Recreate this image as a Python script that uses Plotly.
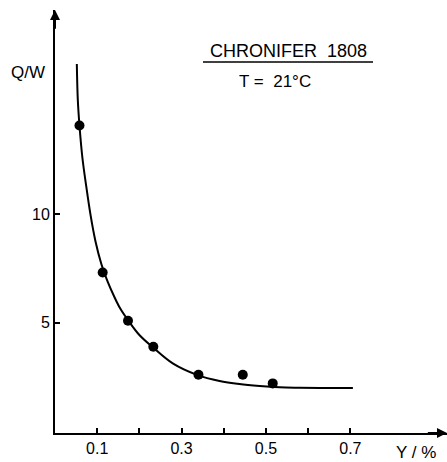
import plotly.graph_objects as go

# Measured data points
pts_x = [0.058, 0.113, 0.173, 0.233, 0.340, 0.445, 0.516]
pts_y = [14.1, 7.32, 5.09, 3.89, 2.60, 2.60, 2.20]

# Fitted curve
curve_x = [0.0517, 0.054, 0.058, 0.065, 0.074, 0.084, 0.096, 0.110, 0.125, 0.140,
           0.155, 0.174, 0.200, 0.232, 0.279, 0.338, 0.390, 0.437, 0.485, 0.532,
           0.579, 0.640, 0.706]
curve_y = [16.94, 15.3, 14.1, 12.6, 11.3, 10.0, 8.75, 7.7, 6.88, 6.22,
           5.64, 5.09, 4.43, 3.86, 3.12, 2.58, 2.31, 2.17, 2.08, 2.02,
           2.0, 1.99, 1.99]

x_ticks = [0.1, 0.3, 0.5, 0.7]
x_tick_labels = ["0.1", "0.3", "0.5", "0.7"]
y_ticks = [5, 10]
y_tick_labels = ["5", "10"]
minor_x = [0.2, 0.4, 0.6]

FONT = "Liberation Sans"

L, T, W, H = 55, 10, 392, 423


def px(x):
    return (x - L) / W


def py(y):
    return (T + H - y) / H


fig = go.Figure()
fig.add_trace(go.Scatter(x=curve_x, y=curve_y, mode="lines",
                         line=dict(color="black", width=2, shape="spline", smoothing=1.0),
                         showlegend=False, hoverinfo="skip"))
fig.add_trace(go.Scatter(x=pts_x, y=pts_y, mode="markers",
                         marker=dict(color="black", size=10),
                         showlegend=False))

fig.update_layout(
    width=447, height=462,
    margin=dict(l=L, r=0, t=T, b=462 - T - H),
    plot_bgcolor="white", paper_bgcolor="white",
    font=dict(family=FONT, color="black", size=16),
    xaxis=dict(range=[0, 0.929], tickvals=x_ticks + minor_x,
               ticktext=x_tick_labels + ["", "", ""],
               showgrid=False, zeroline=False, showline=True, linecolor="black",
               linewidth=2, ticks="inside", ticklen=5, tickwidth=1.5, tickcolor="black",
               tickfont=dict(size=16, family=FONT)),
    yaxis=dict(range=[-0.09, 19.43], tickvals=y_ticks, ticktext=y_tick_labels,
               showgrid=False, zeroline=False, showline=True, linecolor="black",
               linewidth=2, ticks="inside", ticklen=5, tickwidth=1.5, tickcolor="black",
               tickfont=dict(size=16, family=FONT)),
)

# axis arrowheads
fig.add_annotation(x=0, y=19.43, ax=0, ay=18.5, xref="x", yref="y", axref="x", ayref="y",
                   showarrow=True, arrowhead=2, arrowsize=1, arrowwidth=2, arrowcolor="black", text="")
fig.add_annotation(x=0.929, y=-0.09, ax=0.88, ay=-0.09, xref="x", yref="y", axref="x", ayref="y",
                   showarrow=True, arrowhead=2, arrowsize=1, arrowwidth=2, arrowcolor="black", text="")

# axis titles
fig.add_annotation(text="Q/W", x=px(9), y=py(72), xref="paper", yref="paper",
                   xanchor="left", yanchor="middle", showarrow=False,
                   font=dict(size=17, family=FONT))
fig.add_annotation(text="Y / %", x=px(438), y=py(452), xref="paper", yref="paper",
                   xanchor="right", yanchor="middle", showarrow=False,
                   font=dict(size=17, family=FONT))

# title block
fig.add_annotation(text="CHRONIFER  1808", x=px(288), y=py(51), xref="paper", yref="paper",
                   xanchor="center", yanchor="middle", showarrow=False,
                   font=dict(size=18, family=FONT))
fig.add_annotation(text="T =  21°C", x=px(275), y=py(81), xref="paper", yref="paper",
                   xanchor="center", yanchor="middle", showarrow=False,
                   font=dict(size=17, family=FONT))
fig.add_shape(type="line", xref="paper", yref="paper",
              x0=px(203), x1=px(373), y0=py(62), y1=py(62),
              line=dict(color="black", width=1.5))

fig.write_html("out.html")
